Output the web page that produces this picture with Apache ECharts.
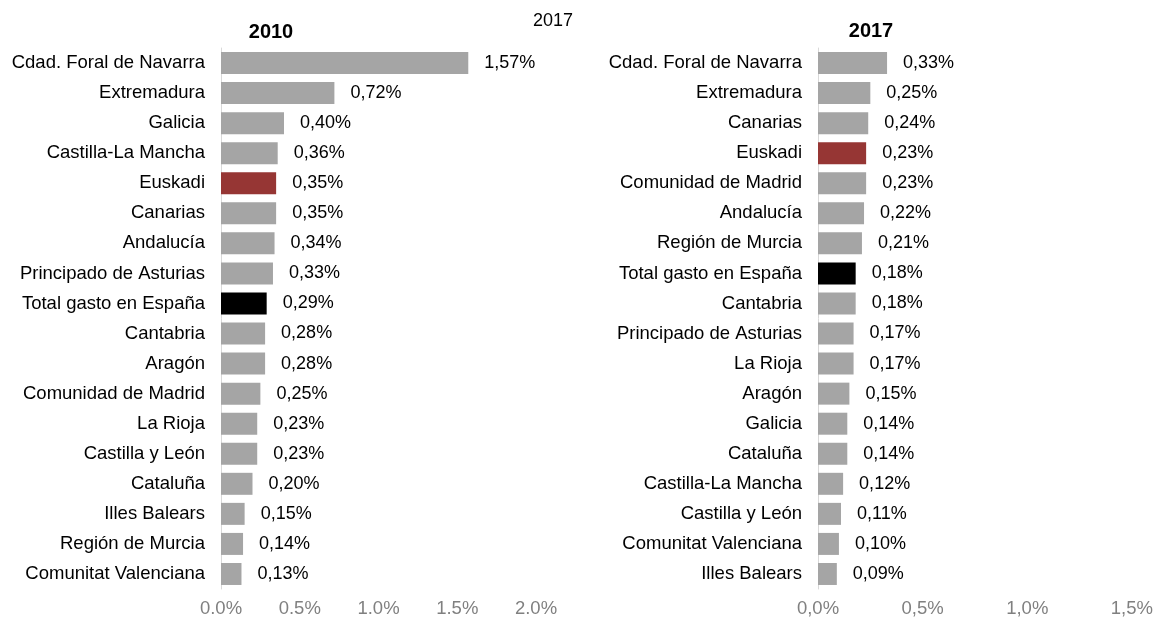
<!DOCTYPE html>
<html>
<head>
<meta charset="utf-8">
<script src="https://cdn.jsdelivr.net/npm/echarts@6/dist/echarts.min.js"></script>
<style>html,body{margin:0;padding:0;background:#fff}#c{width:1156px;height:618px}</style>
</head>
<body>
<div id="c"></div>
<script>
const cats2010 = ["Cdad. Foral de Navarra","Extremadura","Galicia","Castilla-La Mancha","Euskadi","Canarias","Andalucía","Principado de Asturias","Total gasto en España","Cantabria","Aragón","Comunidad de Madrid","La Rioja","Castilla y León","Cataluña","Illes Balears","Región de Murcia","Comunitat Valenciana"];
const vals2010 = [1.57,0.72,0.40,0.36,0.35,0.35,0.34,0.33,0.29,0.28,0.28,0.25,0.23,0.23,0.20,0.15,0.14,0.13];
const cats2017 = ["Cdad. Foral de Navarra","Extremadura","Canarias","Euskadi","Comunidad de Madrid","Andalucía","Región de Murcia","Total gasto en España","Cantabria","Principado de Asturias","La Rioja","Aragón","Galicia","Cataluña","Castilla-La Mancha","Castilla y León","Comunitat Valenciana","Illes Balears"];
const vals2017 = [0.33,0.25,0.24,0.23,0.23,0.22,0.21,0.18,0.18,0.17,0.17,0.15,0.14,0.14,0.12,0.11,0.10,0.09];
const ticks2010 = ["0.0%","0.5%","1.0%","1.5%","2.0%"];
const ticks2017 = ["0,0%","0,5%","1,0%","1,5%"];

const GRAY = '#A5A5A5', RED = '#963634', BLACK = '#000000';
function colorFor(c){ return c === 'Euskadi' ? RED : (c === 'Total gasto en España' ? BLACK : GRAY); }
function mk(cats, vals){ return vals.map((v,i)=>({value:v, itemStyle:{color:colorFor(cats[i])}})); }
const FONT = 'Liberation Sans, Arial, sans-serif';

const chart = echarts.init(document.getElementById('c'), null, {renderer:'canvas'});
chart.setOption({
  animation:false,
  title:[
    {text:'2010', left:266, top:17, textAlign:'center', textStyle:{fontFamily:FONT, fontSize:20, fontWeight:'bold', color:'#000'}},
    {text:'2017', left:548, top:7, textAlign:'center', textStyle:{fontFamily:FONT, fontSize:18, fontWeight:'normal', color:'#000'}},
    {text:'2017', left:866, top:16, textAlign:'center', textStyle:{fontFamily:FONT, fontSize:20, fontWeight:'bold', color:'#000'}}
  ],
  grid:[
    {left:221, top:48, width:315, height:541, containLabel:false},
    {left:818, top:48, width:315, height:541, containLabel:false}
  ],
  xAxis:[
    {gridIndex:0, type:'value', min:0, max:2, interval:0.5,
     axisLine:{show:false}, axisTick:{show:false}, splitLine:{show:false},
     axisLabel:{margin:10, fontFamily:FONT, fontSize:18.5, color:'#808080', formatter:(v)=>ticks2010[Math.round(v/0.5)]}},
    {gridIndex:1, type:'value', min:0, max:1.5, interval:0.5,
     axisLine:{show:false}, axisTick:{show:false}, splitLine:{show:false},
     axisLabel:{margin:10, fontFamily:FONT, fontSize:18.5, color:'#808080', formatter:(v)=>ticks2017[Math.round(v/0.5)]}}
  ],
  yAxis:[
    {gridIndex:0, type:'category', data:cats2010, inverse:true,
     axisLine:{show:true, lineStyle:{color:'#d9d9d9', width:1}}, axisTick:{show:false},
     axisLabel:{margin:16, fontFamily:FONT, fontSize:18.5, color:'#000'}},
    {gridIndex:1, type:'category', data:cats2017, inverse:true,
     axisLine:{show:true, lineStyle:{color:'#d9d9d9', width:1}}, axisTick:{show:false},
     axisLabel:{margin:16, fontFamily:FONT, fontSize:18.5, color:'#000'}}
  ],
  series:[
    {type:'bar', xAxisIndex:0, yAxisIndex:0, data:mk(cats2010, vals2010), barWidth:22,
     label:{show:true, position:'right', distance:16, fontFamily:FONT, fontSize:18, color:'#000',
       formatter:(p)=>p.value.toFixed(2).replace('.',',')+'%'}},
    {type:'bar', xAxisIndex:1, yAxisIndex:1, data:mk(cats2017, vals2017), barWidth:22,
     label:{show:true, position:'right', distance:16, fontFamily:FONT, fontSize:18, color:'#000',
       formatter:(p)=>p.value.toFixed(2).replace('.',',')+'%'}}
  ]
});
</script>
</body>
</html>
